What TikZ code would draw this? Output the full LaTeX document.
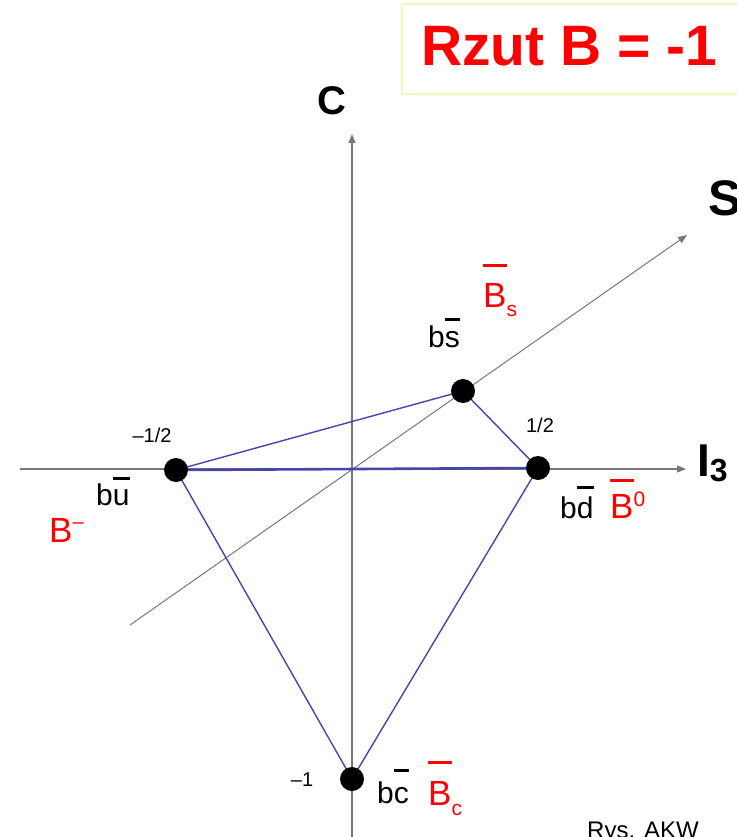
\documentclass[tikz,border=0pt]{standalone}
\usepackage{fontspec}
\setmainfont{Liberation Sans}
\usetikzlibrary{arrows.meta}
\definecolor{tblue}{RGB}{70,70,170}
\definecolor{tred}{RGB}{255,0,0}
\definecolor{axgray}{RGB}{120,120,120}
\definecolor{boxyel}{RGB}{245,245,190}
\newcommand\ovl[3][2.5pt]{\vbox{\hrule height #1\kern#2\hbox{#3}}}
\tikzset{
  axis/.style={draw=axgray,line width=1.3pt,-{Triangle[length=9pt,width=7pt]}},
  edge/.style={draw=tblue,line width=1.4pt},
  dot/.style={circle,fill=black,minimum size=24pt,inner sep=0pt},
  qlab/.style={anchor=base west,inner sep=0pt,font=\fontsize{30}{30}\selectfont},
  mlab/.style={anchor=base west,inner sep=0pt,text=tred,font=\fontsize{35}{36}\selectfont},
  num/.style={inner sep=0pt,font=\fontsize{20}{22}\selectfont},
  axlab/.style={inner sep=0pt,font=\bfseries\fontsize{40}{42}\selectfont},
}
\begin{document}
\begin{tikzpicture}[x=1pt,y=-1pt]
\useasboundingbox (0,0) rectangle (736,837);
% title
\node[draw=boxyel,line width=2pt,minimum width=345pt,minimum height=90pt,anchor=north west,inner sep=0pt] (tbox) at (401,3) {};
\node[text=tred,font=\bfseries\fontsize{57}{60}\selectfont,inner sep=0pt,anchor=base west] (title) at (421,66) {Rzut B = -1};
% axes
\coordinate (vbot) at (352,845);
\coordinate (vtop) at (352,134);
\coordinate (hl) at (20,469);
\coordinate (hr) at (686,469);
\coordinate (sl) at (130,625);
\coordinate (sr) at (687,235);
\draw[axis] (vbot) -- (vtop);
\draw[axis] (hl) -- (hr);
\draw[axis,line width=1pt] (sl) -- (sr);
\node[axlab] (C) at (332,101) {C};
\node[axlab,anchor=base west,font=\bfseries\fontsize{50}{52}\selectfont] (S) at (708,215) {S};
\node[anchor=base west,inner sep=0pt] (I3) at (697,476) {\bfseries\fontsize{46}{48}\selectfont I\raisebox{-5pt}{\fontsize{32}{34}\selectfont 3}};
% edges
\coordinate (pu) at (176,470);
\coordinate (pd) at (538,468);
\coordinate (ps) at (463,391);
\coordinate (pc) at (352,779);
\draw[edge] (pu) -- (ps);
\draw[edge] (ps) -- (pd);
\draw[edge,line width=2.6pt] (pu) -- (pd);
\draw[edge] (pu) -- (pc);
\draw[edge] (pd) -- (pc);
% points
\node[dot] (bu) at (pu) {};
\node[dot] (bd) at (pd) {};
\node[dot] (bs) at (ps) {};
\node[dot] (bc) at (pc) {};
% labels
\node[qlab] (lbs) at (428,347) {b\ovl[3pt]{10pt}{s}};
\node[mlab] (mbs) at (483,307) {\ovl{16pt}{B}\raisebox{-9pt}{\fontsize{21}{21}\selectfont s}};
\node[num] (nmh) at (152,435) {–1/2};
\node[num] (nph) at (540,425) {1/2};
\node[qlab] (lbu) at (96,505) {b\ovl[3pt]{9pt}{u}};
\node[mlab] (mbu) at (49,542) {B\raisebox{14pt}{\fontsize{20}{20}\selectfont –}};
\node[qlab] (lbd) at (560,518) {b\ovl[3pt]{7pt}{d}};
\node[mlab] (mbd) at (610,518) {\ovl{12pt}{B}\raisebox{12pt}{\fontsize{21}{21}\selectfont 0}};
\node[num] (nm1) at (302,780) {–1};
\node[qlab] (lbc) at (377,803) {b\ovl[3pt]{15pt}{c}};
\node[mlab] (mbc) at (428,805) {\ovl{17pt}{B}\raisebox{-10pt}{\fontsize{21}{21}\selectfont c}};
\node[anchor=base west,inner sep=0pt,font=\fontsize{24}{26}\selectfont] (rys) at (587,838) {Rys. AKW};
\end{tikzpicture}
\end{document}
